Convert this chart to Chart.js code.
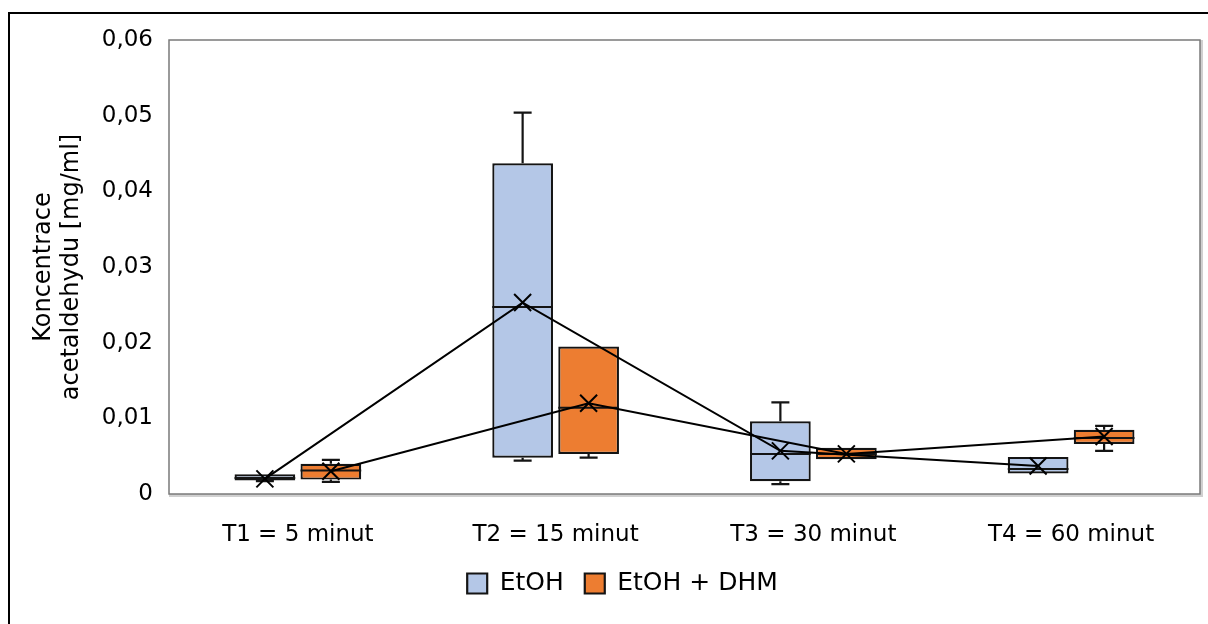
<!DOCTYPE html>
<html>
<head>
<meta charset="utf-8">
<script src="https://cdn.jsdelivr.net/npm/chart.js@4.4.1/dist/chart.umd.min.js"></script>
<style>
  html, body { margin: 0; padding: 0; background: #ffffff; overflow: hidden; }
  #wrap { position: relative; width: 1208px; height: 624px; }
  #frame { position: absolute; left: 8px; top: 12px; width: 1400px; height: 800px;
           border-left: 2px solid #000; border-top: 2px solid #000; pointer-events: none; }
  canvas { position: absolute; left: 0; top: 0; }
</style>
</head>
<body>
<div id="wrap">
  <canvas id="c" width="1208" height="624"></canvas>
  <div id="frame"></div>
</div>
<script>
// ---- data ----
const categories = ['T1 = 5 minut', 'T2 = 15 minut', 'T3 = 30 minut', 'T4 = 60 minut'];
const seriesNames = ['EtOH', 'EtOH + DHM'];
const yTickLabels = ['0', '0,01', '0,02', '0,03', '0,04', '0,05', '0,06'];

const etohMin    = [0.0017, 0.0044, 0.0013, 0.0027];
const etohQ1     = [0.0018, 0.0048, 0.0017, 0.0027];
const etohMedian = [0.0021, 0.0247, 0.0053, 0.0033];
const etohQ3     = [0.0026, 0.0437, 0.0096, 0.0049];
const etohMax    = [0.0026, 0.0504, 0.0121, 0.0049];
const etohMean   = [0.0020, 0.0253, 0.0057, 0.0037];

const dhmMin    = [0.0016, 0.0048, 0.0046, 0.0057];
const dhmQ1     = [0.0019, 0.0053, 0.0046, 0.0066];
const dhmMedian = [0.0031, 0.0114, 0.0053, 0.0074];
const dhmQ3     = [0.0040, 0.0195, 0.0061, 0.0085];
const dhmMax    = [0.0045, 0.0195, 0.0061, 0.0090];
const dhmMean   = [0.0030, 0.0120, 0.0053, 0.0076];

// ---- layout / style ----
const GROUP_OFFSET = 0.128;   // each box's centre offset from its category centre (category units)
const FONT = 'DejaVu Sans';
const boxStats = [
  { min: etohMin, med: etohMedian, max: etohMax, q1: etohQ1, q3: etohQ3 },
  { min: dhmMin,  med: dhmMedian,  max: dhmMax,  q1: dhmQ1,  q3: dhmQ3 }
];

const whiskerPlugin = {
  id: 'whiskers',
  afterDatasetDraw(chart, args) {
    if (args.index > 1) return;
    const st = boxStats[args.index];
    const ys = chart.scales.y;
    const ctx = chart.ctx;
    ctx.save();
    ctx.strokeStyle = '#141414';
    args.meta.data.forEach((el, j) => {
      const x = el.x, w = el.width;
      const yMed = ys.getPixelForValue(st.med[j]);
      const yMax = ys.getPixelForValue(st.max[j]);
      const yMin = ys.getPixelForValue(st.min[j]);
      const yQ3 = ys.getPixelForValue(st.q3[j]);
      const yQ1 = ys.getPixelForValue(st.q1[j]);
      ctx.lineWidth = 2;
      ctx.beginPath();
      ctx.moveTo(x - w / 2, yMed); ctx.lineTo(x + w / 2, yMed);
      ctx.stroke();
      ctx.lineWidth = 2.2;
      ctx.beginPath();
      if (yMax < yQ3 - 0.5) {
        ctx.moveTo(x, yQ3); ctx.lineTo(x, yMax);
        ctx.moveTo(x - 9, yMax); ctx.lineTo(x + 9, yMax);
      }
      if (yMin > yQ1 + 0.5) {
        ctx.moveTo(x, yQ1); ctx.lineTo(x, yMin);
        ctx.moveTo(x - 9, yMin); ctx.lineTo(x + 9, yMin);
      }
      ctx.stroke();
    });
    ctx.restore();
  }
};

const framePlugin = {
  id: 'frame',
  beforeDatasetsDraw(chart) {
    const a = chart.chartArea, ctx = chart.ctx;
    ctx.save();
    ctx.strokeStyle = '#d0d0d0';
    ctx.lineWidth = 3;
    ctx.beginPath();
    ctx.moveTo(a.right + 1.5, a.top); ctx.lineTo(a.right + 1.5, a.bottom + 3);
    ctx.moveTo(a.left, a.bottom + 1.5); ctx.lineTo(a.right + 3, a.bottom + 1.5);
    ctx.stroke();
    ctx.strokeStyle = '#7a7a7a';
    ctx.lineWidth = 1.5;
    ctx.strokeRect(a.left, a.top, a.right - a.left, a.bottom - a.top);
    ctx.restore();
  },
  afterLayout(chart) {
    if (chart.legend) { chart.legend.left += 45; }
  }
};

const boxDataset = (label, q1, q3, sign, color) => ({
  type: 'bar', label, xAxisID: 'xm', grouped: false,
  data: q1.map((v, i) => ({ x: i + sign * GROUP_OFFSET, y: [v, q3[i]] })),
  backgroundColor: color, borderColor: '#141414', borderWidth: 2.2, borderSkipped: false,
  categoryPercentage: 1, barPercentage: 0.92, order: 2
});
const meanDataset = (label, mean, sign) => ({
  type: 'line', label, xAxisID: 'xm',
  data: mean.map((v, i) => ({ x: i + sign * GROUP_OFFSET, y: v })),
  borderColor: '#000', borderWidth: 2, tension: 0, fill: false,
  pointStyle: 'crossRot', pointRadius: 12, pointBorderWidth: 2, pointBorderColor: '#000', order: 1
});

new Chart(document.getElementById('c'), {
  data: {
    labels: categories,
    datasets: [
      boxDataset(seriesNames[0], etohQ1, etohQ3, -1, '#b4c7e7'),
      boxDataset(seriesNames[1], dhmQ1, dhmQ3, 1, '#ed7d31'),
      meanDataset('mean EtOH', etohMean, -1),
      meanDataset('mean EtOH + DHM', dhmMean, 1)
    ]
  },
  options: {
    responsive: false,
    animation: false,
    layout: { autoPadding: false, padding: { left: 0, top: 40, right: 8, bottom: 18 } },
    plugins: {
      tooltip: { enabled: false },
      legend: {
        position: 'bottom',
        labels: {
          filter: item => item.datasetIndex < 2,
          boxWidth: 20, boxHeight: 20, padding: 21,
          color: '#000', font: { family: FONT, size: 25 }
        }
      }
    },
    scales: {
      x: {
        type: 'category', offset: true,
        grid: { display: false }, border: { display: false },
        ticks: { color: '#000', font: { family: FONT, size: 23 }, padding: 19, maxRotation: 0 },
        afterFit: s => { s.height = 56; }
      },
      xm: { type: 'linear', display: false, min: -0.5, max: 3.5, offset: false },
      y: {
        min: 0, max: 0.06, stacked: false,
        grid: { display: false }, border: { display: false },
        ticks: { stepSize: 0.01, color: '#000', font: { family: FONT, size: 23 }, padding: 8,
                 callback: (v, i) => yTickLabels[i] },
        title: { display: true, text: ['Koncentrace', 'acetaldehydu [mg/ml]'], color: '#000',
                 font: { family: FONT, size: 24 }, padding: { top: 29, bottom: 0 } },
        afterFit: s => { s.width = 169; }
      }
    }
  },
  plugins: [whiskerPlugin, framePlugin]
});
</script>
</body>
</html>
